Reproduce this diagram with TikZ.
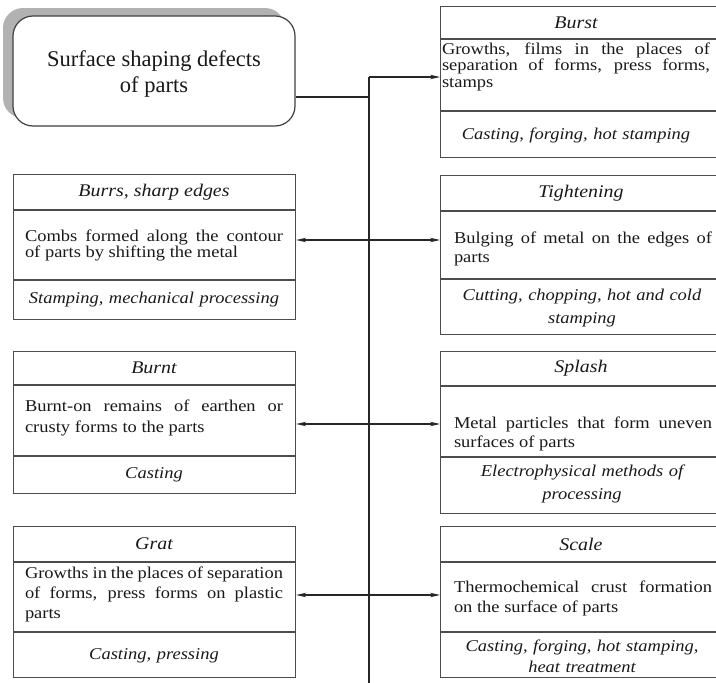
\documentclass[tikz,border=0pt]{standalone}
\usepackage{fontspec}
\setmainfont{Liberation Serif}[FakeStretch=1.12]
\newfontfamily\titlefont{Liberation Serif}
\usetikzlibrary{arrows.meta,shadows}
\hyphenpenalty=10000
\exhyphenpenalty=10000
\newcommand\bodyfnt[1]{\fontsize{16.5}{#1}\selectfont}
\tikzset{
  frame/.style={draw=black!70, line width=1.2pt, minimum width=282pt, inner sep=0pt, anchor=north west},
  sepline/.style={draw=black!70, line width=1.2pt},
  ttl/.style={inner sep=0pt, text=black!90, font=\fontsize{17.8}{20}\selectfont\itshape},
  desc/.style={align=justify, text width=258pt, inner sep=0pt, text=black!90, font=\bodyfnt{#1}},
  desc/.default=18.5,
  proc/.style={align=center, text width=258pt, inner sep=0pt, text=black!90, font=\bodyfnt{#1}\itshape},
  proc/.default=21,
  conn/.style={draw=black!85, line width=1.1pt},
  arr/.style={conn, -{Stealth[length=10pt,width=4.5pt]}},
  mainbox/.style={draw=black!75, line width=1.2pt, rounded corners=20pt, fill=white,
    minimum width=282pt, minimum height=110pt, align=center, text=black!90,
    font=\titlefont\fontsize{22.5}{26.5}\selectfont,
    general shadow={fill=black!30, shadow xshift=-10pt, shadow yshift=8pt}},
}
\begin{document}
\begin{tikzpicture}[x=1pt,y=-1pt]
\useasboundingbox (0,0) rectangle (716,683);

% main box
\node[mainbox] (main) at (154,71) {\rule{0pt}{21.5pt}Surface shaping defects\\of parts};

% frames
\node[frame, minimum height=151pt] (burst) at (440,6) {};
\node[frame, minimum height=159pt] (tight) at (440,175) {};
\node[frame, minimum height=162pt] (splash) at (440,351) {};
\node[frame, minimum height=151pt] (scale) at (440,526) {};
\node[frame, minimum height=145pt] (burrs) at (13,174) {};
\node[frame, minimum height=142pt] (burnt) at (13,351) {};
\node[frame, minimum height=151pt] (grat) at (13,526) {};

% separators
\draw[sepline] (burst.west |- 0,39) -- (burst.east |- 0,39);
\draw[sepline] (burst.west |- 0,111) -- (burst.east |- 0,111);
\draw[sepline] (tight.west |- 0,211) -- (tight.east |- 0,211);
\draw[sepline] (tight.west |- 0,279) -- (tight.east |- 0,279);
\draw[sepline] (splash.west |- 0,386) -- (splash.east |- 0,386);
\draw[sepline] (splash.west |- 0,457) -- (splash.east |- 0,457);
\draw[sepline] (scale.west |- 0,562) -- (scale.east |- 0,562);
\draw[sepline] (scale.west |- 0,632) -- (scale.east |- 0,632);
\draw[sepline] (burrs.west |- 0,210) -- (burrs.east |- 0,210);
\draw[sepline] (burrs.west |- 0,280) -- (burrs.east |- 0,280);
\draw[sepline] (burnt.west |- 0,385) -- (burnt.east |- 0,385);
\draw[sepline] (burnt.west |- 0,456) -- (burnt.east |- 0,456);
\draw[sepline] (grat.west |- 0,562) -- (grat.east |- 0,562);
\draw[sepline] (grat.west |- 0,632) -- (grat.east |- 0,632);

% texts: right column
\node[ttl] (burst-t) at (576,22.5) {Burst};
\node[desc=16.5, text width=268pt] (burst-d) at (576,66.5) {Growths, films in the places of\linebreak separation of forms, press forms,\linebreak stamps};
\node[proc] (burst-p) at (576,135) {Casting, forging, hot stamping};

\node[ttl] (tight-t) at (581,193) {Tightening};
\node[desc=19] (tight-d) at (583,249) {Bulging of metal on the edges of\linebreak parts};
\node[proc=23] (tight-p) at (582,308) {Cutting, chopping, hot and cold\\stamping};

\node[ttl] (splash-t) at (581,368.5) {Splash};
\node[desc=19] (splash-d) at (583,433.5) {Metal particles that form uneven\linebreak surfaces of parts};
\node[proc=23] (splash-p) at (582,484) {Electrophysical methods of\\processing};

\node[ttl] (scale-t) at (581,544) {Scale};
\node[desc=20] (scale-d) at (583,598.5) {Thermochemical crust formation\linebreak on the surface of parts};
\node[proc=21] (scale-p) at (582,656.5) {Casting, forging, hot stamping,\\heat treatment};

% texts: left column
\node[ttl] (burrs-t) at (154,192) {Burrs, sharp edges};
\node[desc=16] (burrs-d) at (154,245.5) {Combs formed along the contour\linebreak of parts by shifting the metal};
\node[proc] (burrs-p) at (154,300) {Stamping, mechanical processing};

\node[ttl] (burnt-t) at (154,368) {Burnt};
\node[desc=21] (burnt-d) at (154,418) {Burnt-on remains of earthen or\linebreak crusty forms to the parts};
\node[proc] (burnt-p) at (154,475) {Casting};

\node[ttl] (grat-t) at (154,544) {Grat};
\node[desc=20] (grat-d) at (154,594) {Growths in the places of separation\linebreak of forms, press forms on plastic\linebreak parts};
\node[proc] (grat-p) at (154,656) {Casting, pressing};

% trunk and connectors
\coordinate (ttop) at (369,77);
\coordinate (tbot) at (369,683);
\coordinate (j0) at (369,97);
\coordinate (j1) at (369,240);
\coordinate (j2) at (369,424);
\coordinate (j3) at (369,595);
\draw[conn] (ttop) -- (tbot);
\draw[conn] (main.east |- j0) -- (j0);
\draw[arr] (ttop) -- (burst.west |- ttop);
\draw[arr] (j1) -- (burrs.east |- j1);
\draw[arr] (j1) -- (tight.west |- j1);
\draw[arr] (j2) -- (burnt.east |- j2);
\draw[arr] (j2) -- (splash.west |- j2);
\draw[arr] (j3) -- (grat.east |- j3);
\draw[arr] (j3) -- (scale.west |- j3);
\end{tikzpicture}
\end{document}
